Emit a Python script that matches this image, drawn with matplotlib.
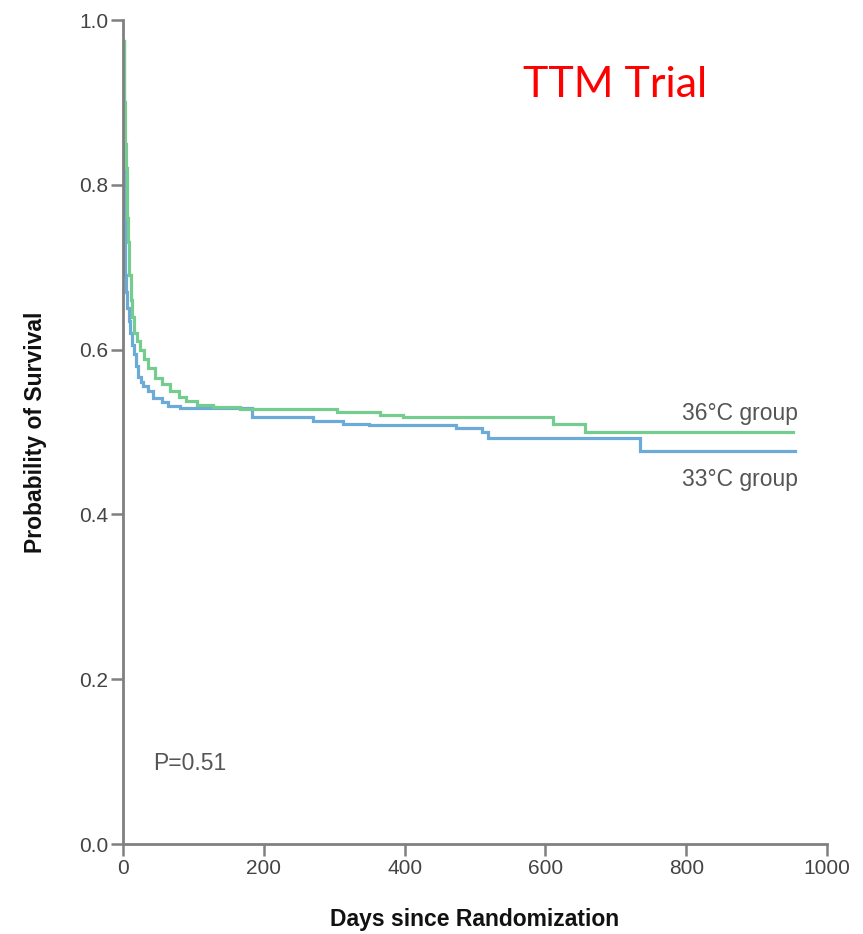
import matplotlib
matplotlib.use("Agg")
import matplotlib.pyplot as plt
from matplotlib import font_manager as fm

# ---- data ----
green_days = [0, 2, 3, 4, 5, 6, 7, 8, 9, 11, 13, 16, 20, 24, 30, 36, 45, 55, 67, 80, 90, 105, 128, 166, 304, 365, 398, 611, 656, 952]
green_surv = [0.974, 0.90, 0.85, 0.82, 0.79, 0.76, 0.73, 0.71, 0.69, 0.66, 0.64, 0.62, 0.61, 0.60, 0.588, 0.578, 0.566, 0.558, 0.550, 0.542, 0.538, 0.533, 0.530, 0.528, 0.524, 0.521, 0.518, 0.510, 0.500, 0.500]

blue_days = [0, 1, 2, 3, 4, 6, 8, 10, 13, 15, 19, 22, 26, 29, 35, 43, 55, 64, 81, 183, 270, 313, 350, 473, 510, 518, 734, 955]
blue_surv = [0.974, 0.90, 0.80, 0.69, 0.67, 0.65, 0.635, 0.62, 0.605, 0.595, 0.58, 0.567, 0.561, 0.556, 0.550, 0.541, 0.537, 0.532, 0.529, 0.518, 0.513, 0.510, 0.508, 0.505, 0.500, 0.493, 0.477, 0.477]

x_ticks = [0, 200, 400, 600, 800, 1000]
y_ticks = [0.0, 0.2, 0.4, 0.6, 0.8, 1.0]
y_tick_labels = ["0.0", "0.2", "0.4", "0.6", "0.8", "1.0"]
label_36 = "36°C group"
label_33 = "33°C group"
p_text = "P=0.51"
title_text = "TTM Trial"

avail = {f.name for f in fm.fontManager.ttflist}
narrow = "Liberation Sans Narrow" if "Liberation Sans Narrow" in avail else "Liberation Sans"
title_font = "Lato" if "Lato" in avail else "DejaVu Sans"

W, H = 863, 934
fig = plt.figure(figsize=(W / 100, H / 100), dpi=100)
ax = fig.add_axes([123 / W, 1 - 844 / H, (827 - 123) / W, (844 - 20) / H])

green_col = "#74cd8e"
blue_col = "#6caad8"
ax.step(blue_days, blue_surv, where="post", color=blue_col, lw=2.3, solid_joinstyle="miter")
ax.step(green_days, green_surv, where="post", color=green_col, lw=2.3, solid_joinstyle="miter")

ax.set_xlim(0, 1000)
ax.set_ylim(0, 1.0)
for s in ["top", "right"]:
    ax.spines[s].set_visible(False)
for s in ["left", "bottom"]:
    ax.spines[s].set_color("#808080")
    ax.spines[s].set_linewidth(2.0)

ax.set_xticks(x_ticks)
ax.set_yticks(y_ticks)
ax.set_yticklabels(y_tick_labels)
ax.tick_params(axis="both", direction="out", length=8.5, width=1.8, color="#808080",
               labelsize=15, labelcolor="#444444", pad=2)
for lab in ax.get_xticklabels() + ax.get_yticklabels():
    lab.set_family(narrow)

ax.set_xlabel("Days since Randomization", fontsize=16.5, fontweight="bold", family=narrow,
              color="#111111", labelpad=22)
ax.set_ylabel("Probability of Survival", fontsize=16.5, fontweight="bold", family=narrow,
              color="#111111", labelpad=23)

ax.text(794, 0.509, label_36, fontsize=16.5, family=narrow,
        color="#555555", ha="left", va="bottom")
ax.text(794, 0.429, label_33, fontsize=16.5, family=narrow,
        color="#555555", ha="left", va="bottom")
ax.text(43, 0.084, p_text, fontsize=16.5, family=narrow, color="#555555", ha="left", va="bottom")

fig.text(523 / W, 1 - 97 / H, title_text, fontsize=31, family=title_font, color="#ff0000",
         ha="left", va="baseline")

fig.savefig("out.png", dpi=100, facecolor="white")
